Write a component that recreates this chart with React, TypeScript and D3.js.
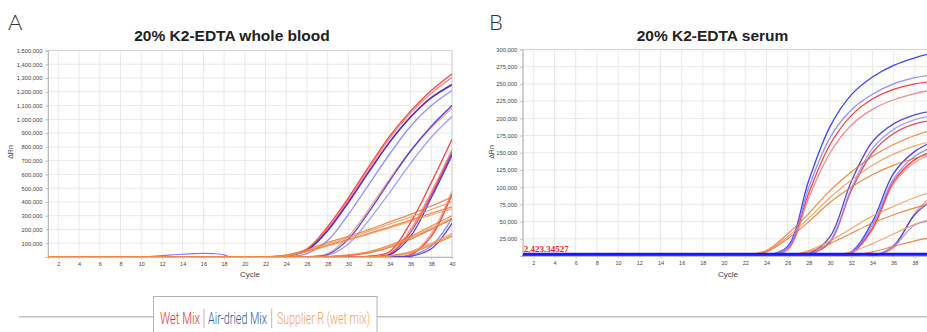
import React, { useRef, useEffect } from 'react';
import * as d3 from 'd3';

const cycles = [20, 22, 24, 26, 28, 30, 32, 34, 36, 38, 40];

// whole blood
const bloodWet = [
  [0, 1, 10, 60, 220, 430, 660, 880, 1060, 1210, 1330],
  [0, 1, 9, 55, 205, 415, 645, 865, 1045, 1190, 1305],
  [0, 1, 8, 50, 195, 400, 625, 840, 1020, 1160, 1255],
  [0, 0, 0, 2, 25, 150, 350, 570, 770, 940, 1080],
  [0, 0, 0, 0, 0, 1, 6, 40, 250, 540, 855],
  [0, 0, 0, 0, 0, 1, 4, 25, 200, 470, 780],
  [0, 0, 0, 0, 0, 0, 3, 20, 180, 450, 760],
  [0, 0, 0, 0, 0, 0, 0, 2, 20, 170, 480],
  [0, 0, 0, 0, 0, 0, 0, 1, 15, 150, 455],
];
const bloodDried = [
  [0, 1, 7, 48, 190, 395, 620, 835, 1015, 1155, 1250],
  [0, 0, 3, 25, 120, 310, 530, 750, 950, 1100, 1210],
  [0, 0, 0, 1, 18, 130, 330, 555, 770, 950, 1100],
  [0, 0, 0, 1, 12, 95, 270, 470, 680, 870, 1020],
  [0, 0, 0, 0, 0, 0, 2, 15, 150, 430, 740],
  [0, 0, 0, 0, 0, 0, 0, 1, 10, 80, 280],
  [0, 0, 0, 0, 0, 0, 0, 1, 5, 60, 245],
];
const bloodSupplier = [
  [0, 1, 15, 55, 105, 150, 200, 255, 310, 370, 435],
  [0, 1, 12, 48, 95, 140, 188, 240, 290, 345, 400],
  [0, 0, 10, 42, 85, 128, 172, 220, 268, 318, 365],
  [0, 0, 8, 38, 80, 122, 168, 212, 258, 305, 350],
  [0, 0, 0, 0, 3, 15, 40, 85, 150, 225, 300],
  [0, 0, 0, 0, 2, 12, 35, 78, 140, 210, 285],
  [0, 0, 0, 0, 2, 10, 30, 70, 130, 200, 275],
  [0, 0, 0, 0, 0, 0, 2, 10, 40, 100, 170],
  [0, 0, 0, 0, 0, 0, 1, 8, 32, 85, 150],
  [0, 0, 0, 0, 0, 0, 1, 7, 30, 90, 160],
];
// small blue bump before cycle 19 in the blood panel
const blipCycles = [1, 10, 12, 14, 16, 17, 18, 18.6, 19];
const bloodBlip = [0, 0, 10, 20, 26, 24, 16, 0, 0];

// serum
const serumWet = [
  [0, 0, 1, 10, 92, 162, 204, 228, 242, 250, 255],
  [0, 0, 1, 9, 85, 150, 190, 213, 227, 236, 242],
  [0, 0, 0, 0, 2, 20, 95, 150, 178, 192, 198],
  [0, 0, 0, 0, 0, 0, 3, 38, 105, 136, 150],
  [0, 0, 0, 0, 0, 0, 4, 40, 108, 140, 154],
  [0, 0, 0, 0, 0, 0, 0, 0, 12, 62, 92],
];
const serumDried = [
  [0, 0, 1, 14, 110, 188, 234, 260, 277, 288, 296],
  [0, 0, 1, 12, 100, 172, 212, 235, 250, 259, 264],
  [0, 0, 0, 0, 3, 28, 108, 166, 192, 205, 212],
  [0, 0, 0, 0, 2, 22, 98, 156, 184, 198, 205],
  [0, 0, 0, 0, 0, 0, 6, 50, 120, 152, 168],
  [0, 0, 0, 0, 0, 0, 5, 45, 112, 145, 160],
  [0, 0, 0, 0, 0, 0, 0, 0, 15, 60, 85],
  [0, 0, 0, 0, 0, 0, 0, 0, 14, 45, 52],
];
const serumSupplier = [
  [0, 1, 8, 32, 62, 95, 122, 145, 162, 175, 185],
  [0, 1, 7, 28, 55, 85, 110, 132, 148, 160, 168],
  [0, 1, 6, 25, 50, 78, 100, 118, 132, 142, 150],
  [0, 0, 0, 1, 8, 22, 40, 58, 72, 85, 95],
  [0, 0, 0, 1, 6, 18, 33, 48, 60, 70, 78],
  [0, 0, 0, 0, 0, 1, 6, 18, 32, 46, 56],
  [0, 0, 0, 0, 0, 0, 1, 6, 14, 22, 28],
];
const serumThreshold = 2423.34527;

const legendItems = ['Wet Mix', 'Air-dried Mix', 'Supplier R (wet mix)'];

const W = 927;
const H = 332;

const redShades = ['#ff1f1f', '#f27878', '#e02a40', '#f39090'];
const blueShades = ['#2020ff', '#7c7cff', '#3a2ad8', '#9090ff'];
const orangeShades = ['#f07228', '#f5955a'];

const App: React.FC = () => {
  const svgRef = useRef<SVGSVGElement>(null);

  useEffect(() => {
    if (!svgRef.current) return;
    const svg = d3.select(svgRef.current);
    svg.selectAll('*').remove();

    const panels = [
      {
        id: 'a', letter: 'A', letterX: 8, title: '20% K2-EDTA whole blood', titleX: 232,
        left: 48, right: 452, top: 50.5, bottom: 257, yMax: 1500000, yStep: 100000,
        rnX: 10, cycleX: 250, wet: bloodWet, dried: bloodDried, supplier: bloodSupplier,
      },
      {
        id: 'b', letter: 'B', letterX: 489, title: '20% K2-EDTA serum', titleX: 712.5,
        left: 522.7, right: 936, top: 49.5, bottom: 256, yMax: 300000, yStep: 25000,
        rnX: 491, cycleX: 728, wet: serumWet, dried: serumDried, supplier: serumSupplier,
      },
    ];

    panels.forEach(p => {
      const g = svg.append('g');
      const x = d3.scaleLinear().domain([1, 40]).range([p.left, p.right]);
      const y = d3.scaleLinear().domain([0, p.yMax]).range([p.bottom, p.top]);

      g.append('text')
        .attr('x', p.letterX).attr('y', 29.5)
        .style('font-family', 'Lato, "Open Sans", sans-serif')
        .style('font-weight', 300)
        .style('font-size', '22px')
        .attr('fill', '#333')
        .text(p.letter);

      g.append('text')
        .attr('x', p.titleX).attr('y', 40.5)
        .attr('text-anchor', 'middle')
        .style('font-family', '"Liberation Sans", Arial, sans-serif')
        .style('font-weight', 'bold')
        .style('font-size', '15.5px')
        .attr('fill', '#222')
        .text(p.title);

      // grid
      const grid = g.append('g').attr('stroke', '#e9e9e9').attr('stroke-width', 1);
      d3.range(2, 41, 2).forEach(c => {
        grid.append('line')
          .attr('x1', x(c)).attr('x2', x(c))
          .attr('y1', p.top).attr('y2', p.bottom);
      });
      d3.range(p.yStep, p.yMax + 1, p.yStep).forEach(v => {
        grid.append('line')
          .attr('x1', p.left).attr('x2', p.right)
          .attr('y1', y(v)).attr('y2', y(v));
      });
      g.append('rect')
        .attr('x', p.left).attr('y', p.top)
        .attr('width', p.right - p.left).attr('height', p.bottom - p.top)
        .attr('fill', 'none').attr('stroke', '#d4d4d4');

      const yAxis = d3.axisLeft(y)
        .tickValues(d3.range(p.yStep, p.yMax + 1, p.yStep))
        .tickSize(2.5)
        .tickFormat(d3.format(','));
      const ya = g.append('g').attr('transform', `translate(${p.left},0)`).call(yAxis);
      ya.select('.domain').attr('stroke', '#bbb');
      ya.selectAll('line').attr('stroke', '#bbb');
      ya.selectAll('text')
        .style('font-family', '"Liberation Sans", Arial, sans-serif')
        .style('font-size', '5.8px').attr('fill', '#444');

      const xAxis = d3.axisBottom(x)
        .tickValues(d3.range(2, 41, 2).filter(c => x(c) < W - 4))
        .tickSize(2)
        .tickFormat(d => `${d}`);
      const xa = g.append('g').attr('transform', `translate(0,${p.bottom})`).call(xAxis);
      xa.select('.domain').attr('stroke', '#bbb');
      xa.selectAll('line').attr('stroke', '#bbb');
      xa.selectAll('text')
        .style('font-family', '"Liberation Sans", Arial, sans-serif')
        .style('font-size', '5.5px').attr('fill', '#444');

      g.append('text')
        .attr('x', p.cycleX)
        .attr('y', 277)
        .attr('text-anchor', 'middle')
        .style('font-family', '"Liberation Sans", Arial, sans-serif')
        .style('font-size', '8px').attr('fill', '#444')
        .text('Cycle');

      g.append('text')
        .attr('transform', `translate(${p.rnX + 2.5},152) rotate(-90)`)
        .attr('text-anchor', 'middle')
        .style('font-family', '"Liberation Sans", Arial, sans-serif')
        .style('font-size', '7px').attr('fill', '#444')
        .text('ΔRn');

      // curves
      const clipId = `clip-${p.id}`;
      svg.append('clipPath').attr('id', clipId)
        .append('rect')
        .attr('x', p.left).attr('y', p.top - 2)
        .attr('width', p.right - p.left).attr('height', p.bottom - p.top + 2);

      const line = d3.line<[number, number]>()
        .x(d => x(d[0]))
        .y(d => y(d[1] * 1000))
        .curve(d3.curveCatmullRom.alpha(0.5));

      const toPoints = (vals: number[]): [number, number][] =>
        [[1, 0] as [number, number]].concat(cycles.map((c, i) => [c, vals[i]] as [number, number]));

      const curves = g.append('g').attr('clip-path', `url(#${clipId})`).attr('fill', 'none');

      const drawSet = (set: number[][], shades: string[], width: number) => {
        set.forEach((vals, i) => {
          curves.append('path')
            .attr('d', line(toPoints(vals)))
            .attr('stroke', shades[i % shades.length])
            .attr('stroke-width', width)
            .attr('stroke-opacity', 0.85);
        });
      };

      if (p.id === 'a') {
        curves.append('path')
          .attr('d', line(blipCycles.map((c, i) => [c, bloodBlip[i]] as [number, number])))
          .attr('stroke', blueShades[1])
          .attr('stroke-width', 1.2);
      }
      drawSet(p.wet, redShades, 1.3);
      drawSet(p.dried, blueShades, 1.3);
      drawSet(p.supplier, orangeShades, 1.2);

      if (p.id === 'b') {
        curves.append('line')
          .attr('x1', p.left).attr('x2', p.right)
          .attr('y1', y(serumThreshold)).attr('y2', y(serumThreshold))
          .attr('stroke', '#1818ff').attr('stroke-width', 3);
        g.append('text')
          .attr('x', p.left + 1).attr('y', 251.5)
          .style('font-family', '"Liberation Serif", "Times New Roman", serif')
          .style('font-weight', 'bold')
          .style('font-size', '9px')
          .attr('fill', '#ff2020')
          .text(d3.format(',.5f')(serumThreshold));
      }
    });

    // legend
    const lg = svg.append('g');
    lg.append('line').attr('x1', 19).attr('x2', 153.5).attr('y1', 316.7).attr('y2', 316.7)
      .attr('stroke', '#c2c2c2').attr('stroke-width', 1.6);
    lg.append('line').attr('x1', 377).attr('x2', W).attr('y1', 316.7).attr('y2', 316.7)
      .attr('stroke', '#c2c2c2').attr('stroke-width', 1.6);
    lg.append('rect').attr('x', 153.5).attr('y', 296.5).attr('width', 223.5).attr('height', 50)
      .attr('fill', '#fff').attr('stroke', '#b4b4b4').attr('stroke-width', 1);

    const legendColors = ['#e0343f', '#2a5ea6', '#f5a35a'];
    const legendPos = [[160, 40], [208, 59], [277, 93]];
    legendItems.forEach((t, i) => {
      lg.append('text')
        .attr('x', legendPos[i][0]).attr('y', 323.5)
        .attr('textLength', legendPos[i][1])
        .attr('lengthAdjust', 'spacingAndGlyphs')
        .style('font-family', 'Roboto, "Liberation Sans", sans-serif')
        .style('font-weight', 300)
        .style('font-size', '17px')
        .attr('fill', legendColors[i])
        .text(t);
    });
    [204, 271.7].forEach(sx => {
      lg.append('line').attr('x1', sx).attr('x2', sx).attr('y1', 308.5).attr('y2', 328)
        .attr('stroke', '#aaa').attr('stroke-width', 0.8);
    });
  }, []);

  return (
    <svg
      ref={svgRef}
      width={W}
      height={H}
      style={{ position: 'absolute', left: 0, top: 0, background: '#fff' }}
    />
  );
};

export default App;
